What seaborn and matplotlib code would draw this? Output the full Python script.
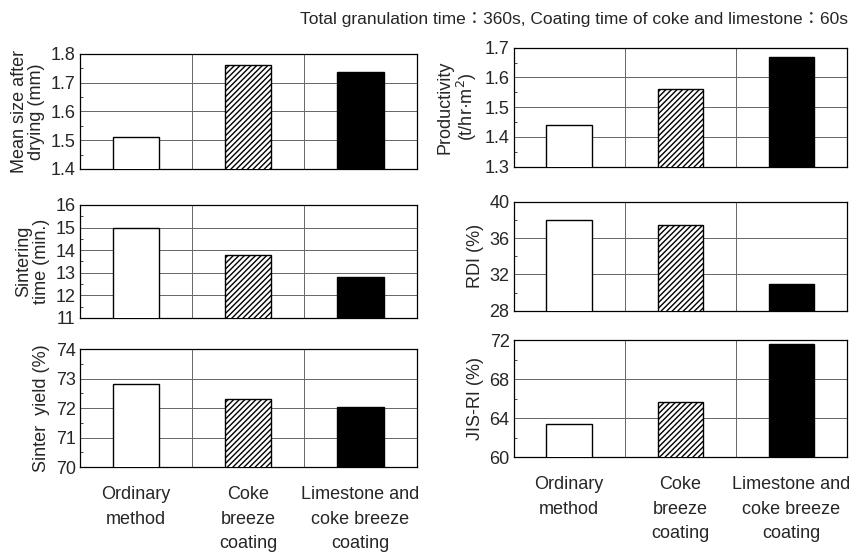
import matplotlib
matplotlib.use("Agg")
import matplotlib.pyplot as plt
import seaborn as sns
import pandas as pd
from matplotlib.ticker import MultipleLocator

methods = ["Ordinary\nmethod", "Coke\nbreeze\ncoating", "Limestone and\ncoke breeze\ncoating"]

mean_size = [1.51, 1.76, 1.735]
productivity = [1.44, 1.56, 1.67]
sintering_time = [15.0, 13.8, 12.8]
rdi = [38.0, 37.4, 31.0]
sinter_yield = [72.8, 72.3, 72.05]
jis_ri = [63.4, 65.6, 71.6]

title = "Total granulation time：360s, Coating time of coke and limestone：60s"

sns.set_theme(style="white")
plt.rcParams["font.family"] = ["Liberation Sans", "Noto Sans CJK JP", "DejaVu Sans"]

fig = plt.figure(figsize=(8.59, 5.54), dpi=100)

# (values, ylabel, ylim, major step, minor step, rect)
panels = [
    (mean_size, "Mean size after\ndrying (mm)", (1.4, 1.8), 0.1, 0.05, [0.093, 0.695, 0.392, 0.208]),
    (sintering_time, "Sintering\ntime (min.)", (11, 16), 1, 0.5, [0.093, 0.426, 0.392, 0.204]),
    (sinter_yield, "Sinter  yield (%)", (70, 74), 1, 0.5, [0.093, 0.157, 0.392, 0.213]),
    (productivity, "Productivity\n(t/hr·m$^2$)", (1.3, 1.7), 0.1, 0.05, [0.598, 0.699, 0.388, 0.215]),
    (rdi, "RDI (%)", (28, 40), 4, 2, [0.598, 0.439, 0.388, 0.197]),
    (jis_ri, "JIS-RI (%)", (60, 72), 4, 2, [0.598, 0.175, 0.388, 0.211]),
]

fills = ["white", "white", "black"]
hatches = ["", "//////", ""]

for i, (vals, ylabel, ylim, major, minor, rect) in enumerate(panels):
    ax = fig.add_axes(rect)
    df = pd.DataFrame({"method": methods, "value": vals})
    sns.barplot(data=df, x="method", y="value", ax=ax, width=0.41,
                color="white", edgecolor="black", linewidth=1.0, zorder=3)
    for patch, fc, h in zip(ax.patches, fills, hatches):
        patch.set_facecolor(fc)
        patch.set_hatch(h)
    ax.set_ylim(*ylim)
    ax.set_xlim(-0.5, 2.5)
    ax.yaxis.set_major_locator(MultipleLocator(major))
    ax.yaxis.set_minor_locator(MultipleLocator(minor))
    ax.grid(axis="y", which="major", color="#666666", linewidth=0.7, zorder=0)
    for xv in (0.5, 1.5):
        ax.axvline(xv, color="#666666", linewidth=0.7, zorder=0)
    ax.tick_params(axis="y", which="major", direction="in", length=4, width=0.8,
                   labelsize=13, pad=3)
    ax.tick_params(axis="y", which="minor", direction="in", length=2.5, width=0.6, left=True)
    ax.tick_params(axis="x", length=0)
    ax.set_xlabel("")
    ax.set_ylabel(ylabel, fontsize=13, labelpad=4, linespacing=1.05)
    for s in ax.spines.values():
        s.set_color("black")
        s.set_linewidth(0.9)
    if i in (2, 5):
        ax.set_xticks(range(3))
        ax.set_xticklabels(methods, fontsize=13, linespacing=1.55, va="top")
        ax.tick_params(axis="x", pad=14)
    else:
        ax.set_xticklabels([])

fig.text(0.987, 0.965, title, ha="right", va="center", fontsize=12.5)

fig.savefig("out.png", dpi=100)
